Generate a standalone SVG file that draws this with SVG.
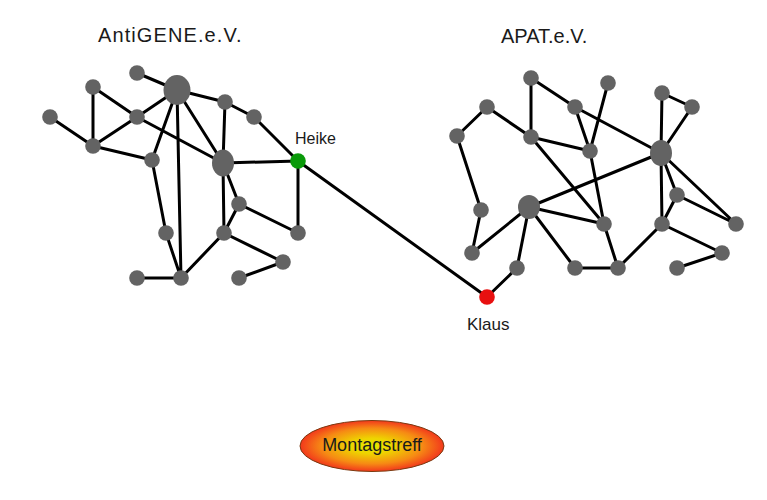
<svg xmlns="http://www.w3.org/2000/svg" width="767" height="500" viewBox="0 0 767 500">
<style>
.e{stroke:#000;stroke-width:3;fill:none;stroke-linecap:round}
.n{fill:#636363}
.t{font-family:"Liberation Sans",Arial,sans-serif;fill:#1a1a1a}
</style>
<defs>
<radialGradient id="g" cx="50%" cy="50%" r="50%">
<stop offset="0" stop-color="#e6e600"/>
<stop offset="0.3" stop-color="#eed400"/>
<stop offset="0.7" stop-color="#f68a14"/>
<stop offset="1" stop-color="#f2381c"/>
</radialGradient>
</defs>
<rect width="767" height="500" fill="#fff"/>
<g id="connectors">
<path class="e" d="M137,73L177,90 M93,87L137,117 M93,87L93,146 M50,117L93,146 M137,117L177,90 M93,146L137,117 M93,146L152,160 M137,117L223,163 M177,90L152,160 M177,90L181,278 M177,90L223,163 M177,90L225,102 M225,102L223,163 M225,102L254,117 M254,117L298,161 M223,163L298,161 M223,163L239,204 M223,163L224,233 M239,204L224,233 M239,204L298,233 M298,161L298,233 M152,160L166,233 M166,233L181,278 M181,278L224,233 M137,278L181,278 M224,233L283,262 M239,278L283,262 M298,161L487,297"/>
<path class="e" d="M531,78L531,137 M531,78L575,107 M487,107L457,136 M487,107L531,137 M575,107L661,153 M575,107L590,151 M608,83L590,151 M531,137L590,151 M531,137L604,224 M590,151L604,224 M662,93L692,107 M662,93L661,153 M692,107L661,153 M661,153L529,207 M661,153L677,195 M661,153L662,224 M661,153L736,224 M677,195L736,224 M677,195L662,224 M457,136L481,210 M481,210L472,253 M529,207L472,253 M529,207L604,224 M529,207L517,268 M529,207L575,268 M604,224L618,268 M575,268L618,268 M618,268L662,224 M662,224L722,253 M677,268L722,253 M517,268L487,297"/>
</g>
<g id="antigene-title"><text class="t" x="98" y="42" font-size="20" letter-spacing="1.1">AntiGENE.e.V.</text></g>
<g id="apat-title"><text class="t" x="501" y="43" font-size="20">APAT.e.V.</text></g>
<g id="L-A"><ellipse class="n" cx="177" cy="90" rx="13.5" ry="15"/></g>
<g id="L-B"><ellipse class="n" cx="223" cy="163" rx="11" ry="13.5"/></g>
<g id="L-1"><circle class="n" cx="137" cy="73" r="7.8"/></g>
<g id="L-2"><circle class="n" cx="93" cy="87" r="7.8"/></g>
<g id="L-3"><circle class="n" cx="50" cy="117" r="7.8"/></g>
<g id="L-4"><circle class="n" cx="137" cy="117" r="7.8"/></g>
<g id="L-5"><circle class="n" cx="93" cy="146" r="7.8"/></g>
<g id="L-6"><circle class="n" cx="152" cy="160" r="7.8"/></g>
<g id="L-7"><circle class="n" cx="225" cy="102" r="7.8"/></g>
<g id="L-8"><circle class="n" cx="254" cy="117" r="7.8"/></g>
<g id="L-9"><circle class="n" cx="239" cy="204" r="7.8"/></g>
<g id="L-10"><circle class="n" cx="224" cy="233" r="7.8"/></g>
<g id="L-11"><circle class="n" cx="298" cy="233" r="7.8"/></g>
<g id="L-12"><circle class="n" cx="166" cy="233" r="7.8"/></g>
<g id="L-13"><circle class="n" cx="181" cy="278" r="7.8"/></g>
<g id="L-14"><circle class="n" cx="137" cy="278" r="7.8"/></g>
<g id="L-15"><circle class="n" cx="283" cy="262" r="7.8"/></g>
<g id="L-16"><circle class="n" cx="239" cy="278" r="7.8"/></g>
<g id="heike"><circle cx="298" cy="161" r="7.8" fill="#0a9a0a"/><text class="t" x="295" y="144" font-size="16">Heike</text></g>
<g id="R-C"><ellipse class="n" cx="661" cy="153" rx="11" ry="13"/></g>
<g id="R-D"><ellipse class="n" cx="529" cy="207" rx="11" ry="12"/></g>
<g id="R-1"><circle class="n" cx="531" cy="78" r="7.8"/></g>
<g id="R-2"><circle class="n" cx="608" cy="83" r="7.8"/></g>
<g id="R-3"><circle class="n" cx="662" cy="93" r="7.8"/></g>
<g id="R-4"><circle class="n" cx="692" cy="107" r="7.8"/></g>
<g id="R-5"><circle class="n" cx="487" cy="107" r="7.8"/></g>
<g id="R-6"><circle class="n" cx="575" cy="107" r="7.8"/></g>
<g id="R-7"><circle class="n" cx="457" cy="136" r="7.8"/></g>
<g id="R-8"><circle class="n" cx="531" cy="137" r="7.8"/></g>
<g id="R-9"><circle class="n" cx="590" cy="151" r="7.8"/></g>
<g id="R-10"><circle class="n" cx="481" cy="210" r="7.8"/></g>
<g id="R-11"><circle class="n" cx="677" cy="195" r="7.8"/></g>
<g id="R-12"><circle class="n" cx="736" cy="224" r="7.8"/></g>
<g id="R-13"><circle class="n" cx="604" cy="224" r="7.8"/></g>
<g id="R-14"><circle class="n" cx="662" cy="224" r="7.8"/></g>
<g id="R-15"><circle class="n" cx="472" cy="253" r="7.8"/></g>
<g id="R-16"><circle class="n" cx="722" cy="253" r="7.8"/></g>
<g id="R-17"><circle class="n" cx="517" cy="268" r="7.8"/></g>
<g id="R-18"><circle class="n" cx="575" cy="268" r="7.8"/></g>
<g id="R-19"><circle class="n" cx="618" cy="268" r="7.8"/></g>
<g id="R-20"><circle class="n" cx="677" cy="268" r="7.8"/></g>
<g id="klaus"><circle cx="487" cy="297" r="7.8" fill="#e81010"/><text class="t" x="467" y="330" font-size="17">Klaus</text></g>
<g id="montagstreff"><ellipse cx="372" cy="446" rx="72" ry="25.5" fill="url(#g)" stroke="#7a3a10" stroke-width="1"/><text class="t" x="372" y="451" font-size="18" text-anchor="middle">Montagstreff</text></g>
</svg>
